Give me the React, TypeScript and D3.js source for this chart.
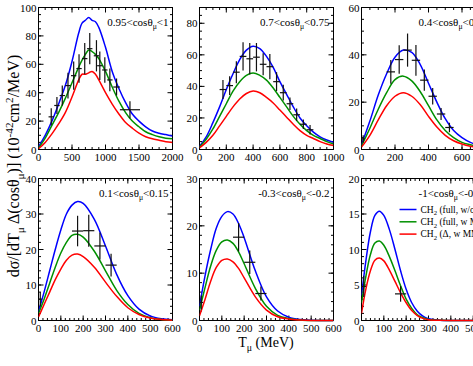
import React from "react";
import * as d3 from "d3";

const W = 473, H = 366;
const colX = [38.5, 199.5, 361.5];
const rowY = [7.5, 178.5];
const PW = 134, PH = 142;
const FONT = "Liberation Serif, Times New Roman, serif";

// panel 1 : 0.95<cos<1
const p1T = [0, 100, 200, 300, 400, 500, 600, 650, 700, 750, 800, 850, 900, 1000, 1100, 1200, 1300, 1400, 1500, 1600, 1700, 1800, 1900, 2000];
const p1Blue = [2, 10, 20, 32, 45, 62, 82, 89, 91, 93, 91, 90, 86, 72, 55, 43, 33, 25, 20, 16, 13, 11.5, 10.5, 9.5];
const p1Green = [1, 8, 17, 26, 36, 47, 58, 63, 67, 70, 69, 67, 64, 55, 44, 34, 26, 20, 16, 12.5, 10.5, 9, 8, 7.5];
const p1Red = [0.5, 5, 11, 18, 26, 37, 49, 53, 53, 54, 55, 53, 49, 40, 32, 25, 19, 15, 11.5, 9, 7.5, 6.5, 5.5, 5];
const p1PtT = [190, 275, 355, 440, 525, 605, 690, 765, 865, 915, 990, 1065, 1165, 1365];
const p1PtY = [23, 31, 38, 45, 52, 57, 64, 71, 66, 59, 56, 49, 44, 28];
const p1PtXe = [40, 40, 40, 40, 40, 40, 40, 40, 40, 40, 40, 40, 50, 150];
const p1PtYe = [6, 6, 7, 9, 10, 10, 11, 11, 11, 10, 9, 8, 6, 6];

// panel 2 : 0.7<cos<0.75
const p2T = [0, 50, 100, 150, 200, 250, 300, 350, 400, 450, 500, 550, 600, 650, 700, 750, 800, 850, 900, 950, 1000];
const p2Blue = [2, 8, 17, 27, 38, 48, 57, 63, 65.5, 64, 59, 52, 43, 35, 27, 20, 15, 11, 8, 6, 4.5];
const p2Green = [1.5, 6.5, 13, 21, 29, 37, 43, 47, 48.5, 47, 44, 39, 33, 27, 21, 16, 12, 9, 7, 5, 3.5];
const p2Red = [1, 4.5, 9, 15, 21, 27, 32, 35.5, 37, 36, 33, 29.5, 25, 20.5, 16, 12, 9, 7, 5, 3.5, 2.5];
const p2PtT = [175, 225, 275, 325, 375, 425, 475, 525, 575, 625, 675, 725, 775, 825];
const p2PtY = [38, 40.5, 49, 59, 57.5, 58.5, 54, 52.5, 43, 36, 29, 22, 16, 12.5];
const p2PtXe = [25, 25, 25, 25, 25, 25, 25, 25, 25, 25, 25, 25, 25, 25];
const p2PtYe = [6, 6, 7, 9, 10, 9, 7, 8, 6, 5, 4, 4, 3, 3];

// panel 3 : 0.4<cos<0.45
const p3T = [0, 50, 100, 150, 200, 250, 300, 350, 400, 450, 500, 550, 600, 650, 700, 800];
const p3Blue = [2, 12, 23, 32, 39, 42, 41, 36, 28, 20, 13, 8, 5, 3, 1.8, 0.8];
const p3Green = [1.5, 9, 17, 24, 29.5, 31, 29, 24.5, 18.5, 12.5, 8, 5, 3, 2, 1.2, 0.5];
const p3Red = [1, 6, 12.5, 18.5, 22.5, 24, 22.5, 19, 14, 9.5, 6, 3.7, 2.3, 1.4, 0.9, 0.3];
const p3PtT = [10, 175, 225, 275, 325, 375, 425, 475, 525];
const p3PtY = [4.5, 32.8, 38, 42, 37.7, 29.3, 22.5, 15, 9.3];
const p3PtXe = [10, 25, 25, 25, 25, 25, 25, 25, 25];
const p3PtYe = [1.5, 5, 6, 7, 6.5, 4.5, 3.5, 2.5, 2];

// panel 4 : 0.1<cos<0.15
const p4T = [0, 25, 50, 75, 100, 125, 150, 175, 200, 250, 300, 350, 400, 450, 500, 550, 600];
const p4Blue = [2.5, 8, 14, 20, 25.5, 30, 32.5, 33.5, 33, 28.5, 21, 13, 7, 3.2, 1.3, 0.5, 0.2];
const p4Green = [2, 6, 10.5, 15, 19, 22, 24, 24.3, 23.5, 19.5, 14, 8.5, 4.5, 2, 0.8, 0.3, 0.1];
const p4Red = [1, 4.5, 8, 11.5, 14.5, 17, 18.4, 18.7, 18, 15, 10.8, 6.8, 3.6, 1.7, 0.7, 0.3, 0.1];
const p4PtT = [8, 175, 225, 275, 325];
const p4PtY = [6, 25.2, 25.3, 21, 15.6];
const p4PtXe = [8, 25, 25, 25, 25];
const p4PtYe = [2, 4.3, 4.5, 3.8, 3.2];

// panel 5 : -0.3<cos<-0.2
const p5T = [0, 25, 50, 75, 100, 125, 150, 175, 200, 250, 300, 350, 400, 450, 500, 600];
const p5Blue = [3, 9.5, 15, 19.5, 22, 23, 22.5, 20.5, 17.5, 10.5, 5, 2, 0.7, 0.2, 0.05, 0];
const p5Green = [2.2, 7, 11.5, 14.8, 16.6, 17, 16.3, 14.5, 12, 6.8, 3, 1.1, 0.4, 0.1, 0, 0];
const p5Red = [1, 4.5, 8.3, 11.2, 12.7, 13, 12.4, 11, 9, 5, 2.2, 0.8, 0.3, 0.1, 0, 0];
const p5PtT = [8, 175, 225, 275];
const p5PtY = [3.8, 17.6, 12.3, 5.7];
const p5PtXe = [8, 25, 25, 25];
const p5PtYe = [1.5, 3, 2.5, 1.5];

// panel 6 : -1<cos<-0.3
const p6T = [0, 20, 40, 60, 80, 100, 125, 150, 175, 200, 225, 250, 275, 300, 350, 400, 600];
const p6Blue = [3.5, 8.5, 12.5, 14.8, 15.4, 14.8, 12.8, 10, 7, 4.4, 2.5, 1.3, 0.6, 0.25, 0.05, 0, 0];
const p6Green = [2.5, 6.3, 9.3, 10.9, 11.2, 10.6, 9, 7, 4.9, 3, 1.7, 0.8, 0.4, 0.15, 0.03, 0, 0];
const p6Red = [1, 4.5, 7, 8.5, 8.8, 8.4, 7.1, 5.5, 3.9, 2.5, 1.4, 0.7, 0.3, 0.12, 0.03, 0, 0];
const p6PtT = [10, 175];
const p6PtY = [4.8, 3.75];
const p6PtXe = [10, 25];
const p6PtYe = [1.5, 1.1];

const legendLabels = [
  [["CH", ""], ["2", "sub"], [" (full, w/o MM)", ""]],
  [["CH", ""], ["2", "sub"], [" (full, w MM)", ""]],
  [["CH", ""], ["2", "sub"], [" (Δ, w MM)", ""]],
];
const lineColors = ["#0000ff", "#009000", "#ff0000"];

const panels = [
  { col: 0, row: 0, xMax: 2000, yMax: 100, xMaj: 500, xMin: 100, yMaj: 20, yMin: 5, lo: "0.95", hi: "1", T: p1T, c: [p1Blue, p1Green, p1Red], pt: [p1PtT, p1PtY, p1PtXe, p1PtYe] },
  { col: 1, row: 0, xMax: 1000, yMax: 90, xMaj: 200, xMin: 50, yMaj: 20, yMin: 5, lo: "0.7", hi: "0.75", T: p2T, c: [p2Blue, p2Green, p2Red], pt: [p2PtT, p2PtY, p2PtXe, p2PtYe] },
  { col: 2, row: 0, xMax: 800, yMax: 60, xMaj: 200, xMin: 50, yMaj: 20, yMin: 5, lo: "0.4", hi: "0.45", T: p3T, c: [p3Blue, p3Green, p3Red], pt: [p3PtT, p3PtY, p3PtXe, p3PtYe] },
  { col: 0, row: 1, xMax: 600, yMax: 40, xMaj: 100, xMin: 20, yMaj: 10, yMin: 2, lo: "0.1", hi: "0.15", T: p4T, c: [p4Blue, p4Green, p4Red], pt: [p4PtT, p4PtY, p4PtXe, p4PtYe] },
  { col: 1, row: 1, xMax: 600, yMax: 30, xMaj: 100, xMin: 20, yMaj: 10, yMin: 2, lo: "-0.3", hi: "-0.2", T: p5T, c: [p5Blue, p5Green, p5Red], pt: [p5PtT, p5PtY, p5PtXe, p5PtYe] },
  { col: 2, row: 1, xMax: 600, yMax: 20, xMaj: 100, xMin: 20, yMaj: 5, yMin: 1, lo: "-1", hi: "-0.3", T: p6T, c: [p6Blue, p6Green, p6Red], pt: [p6PtT, p6PtY, p6PtXe, p6PtYe], legend: true },
];

function rich(sel: any, parts: any[], fs: number) {
  let shift = 0;
  parts.forEach(([t, k]: [string, string]) => {
    const target = k === "sub" ? fs * 0.3 : k === "sup" ? -fs * 0.4 : 0;
    sel.append("tspan").attr("dy", target - shift).attr("font-size", k ? fs * 0.7 : fs).text(t);
    shift = target;
  });
}

const App = () => {
  const ref = React.useRef<SVGSVGElement>(null);

  React.useEffect(() => {
    const svg = d3.select(ref.current);
    svg.selectAll("*").remove();
    svg.append("rect").attr("width", W).attr("height", H).attr("fill", "#fff");

    panels.forEach((p: any, i) => {
      const x0 = colX[p.col], y0 = rowY[p.row];
      const x = d3.scaleLinear().domain([0, p.xMax]).range([x0, x0 + PW]);
      const y = d3.scaleLinear().domain([0, p.yMax]).range([y0 + PH, y0]);
      const g = svg.append("g");

      g.append("defs").append("clipPath").attr("id", "clip" + i)
        .append("rect").attr("x", x0).attr("y", y0).attr("width", PW).attr("height", PH + 1.5);

      // ticks (inward, mirrored)
      const tk = (vals: number[], len: number) => {
        vals.forEach((v) => {
          const px = x(v);
          g.append("line").attr("x1", px).attr("x2", px).attr("y1", y0 + PH).attr("y2", y0 + PH - len).attr("stroke", "#000");
          g.append("line").attr("x1", px).attr("x2", px).attr("y1", y0).attr("y2", y0 + len).attr("stroke", "#000");
        });
      };
      const tky = (vals: number[], len: number) => {
        vals.forEach((v) => {
          const py = y(v);
          g.append("line").attr("y1", py).attr("y2", py).attr("x1", x0).attr("x2", x0 + len).attr("stroke", "#000");
          g.append("line").attr("y1", py).attr("y2", py).attr("x1", x0 + PW).attr("x2", x0 + PW - len).attr("stroke", "#000");
        });
      };
      tk(d3.range(0, p.xMax + 0.01, p.xMin), 2.5);
      tk(d3.range(0, p.xMax + 0.01, p.xMaj), 5);
      tky(d3.range(0, p.yMax + 0.01, p.yMin), 2.5);
      tky(d3.range(0, p.yMax + 0.01, p.yMaj), 5);

      g.append("rect").attr("x", x0).attr("y", y0).attr("width", PW).attr("height", PH)
        .attr("fill", "none").attr("stroke", "#000").attr("stroke-width", 1);

      d3.range(0, p.xMax + 0.01, p.xMaj).forEach((v) => {
        g.append("text").attr("x", x(v)).attr("y", y0 + PH + 11.5).attr("text-anchor", "middle")
          .attr("font-family", FONT).attr("font-size", 11).text(String(v));
      });
      d3.range(0, p.yMax + 0.01, p.yMaj).forEach((v) => {
        g.append("text").attr("x", x0 - 2).attr("y", y(v) + 4).attr("text-anchor", "end")
          .attr("font-family", FONT).attr("font-size", 11).text(String(v));
      });

      const line = d3.line<number>().x((_, j) => x(p.T[j])).y((d) => y(d)).curve(d3.curveCatmullRom.alpha(0.5));
      const cg = g.append("g").attr("clip-path", `url(#clip${i})`);
      p.c.forEach((vals: number[], k: number) => {
        cg.append("path").attr("d", line(vals)).attr("fill", "none")
          .attr("stroke", lineColors[k]).attr("stroke-width", 1.5);
      });

      const [pt, py, pxe, pye] = p.pt;
      pt.forEach((t: number, j: number) => {
        g.append("line").attr("x1", x(t - pxe[j])).attr("x2", x(t + pxe[j])).attr("y1", y(py[j])).attr("y2", y(py[j]))
          .attr("stroke", "#111").attr("stroke-width", 1.2);
        g.append("line").attr("x1", x(t)).attr("x2", x(t)).attr("y1", y(py[j] - pye[j])).attr("y2", y(py[j] + pye[j]))
          .attr("stroke", "#111").attr("stroke-width", 1.2);
      });

      const lab = g.append("text").attr("font-family", FONT).attr("font-size", 11)
        .attr("x", p.col === 2 ? x0 + 57 : undefined)
        .attr("y", y0 + 18);
      if (p.col !== 2) lab.attr("x", x0 + PW - 4).attr("text-anchor", "end");
      rich(lab, [[p.lo + "<cosθ", ""], ["μ", "sub"], ["<" + p.hi, ""]], 11);

      if (p.legend) {
        legendLabels.forEach((parts, k) => {
          const ly = y0 + 31 + k * 12.3;
          g.append("line").attr("x1", x0 + 38).attr("x2", x0 + 55).attr("y1", ly).attr("y2", ly)
            .attr("stroke", lineColors[k]).attr("stroke-width", 1.5);
          const t = g.append("text").attr("font-family", FONT).attr("font-size", 9.5)
            .attr("x", x0 + 59).attr("y", ly + 3);
          rich(t, parts, 9.5);
        });
      }
    });

    const yt = svg.append("text").attr("font-family", FONT).attr("font-size", 16)
      .attr("text-anchor", "middle").attr("transform", "translate(19,166) rotate(-90)");
    rich(yt, [["dσ/[dT", ""], ["μ", "sub"], [" Δ(cosθ", ""], ["μ", "sub"], [")] (10", ""], ["-42", "sup"], ["cm", ""], ["2", "sup"], ["/MeV)", ""]], 16);

    const xt = svg.append("text").attr("font-family", FONT).attr("font-size", 14)
      .attr("text-anchor", "middle").attr("x", 266).attr("y", 347);
    rich(xt, [["T", ""], ["μ", "sub"], [" (MeV)", ""]], 14);
  }, []);

  return (
    <svg ref={ref} width={W} height={H} style={{ position: "absolute", left: 0, top: 0 }} />
  );
};

export default App;
